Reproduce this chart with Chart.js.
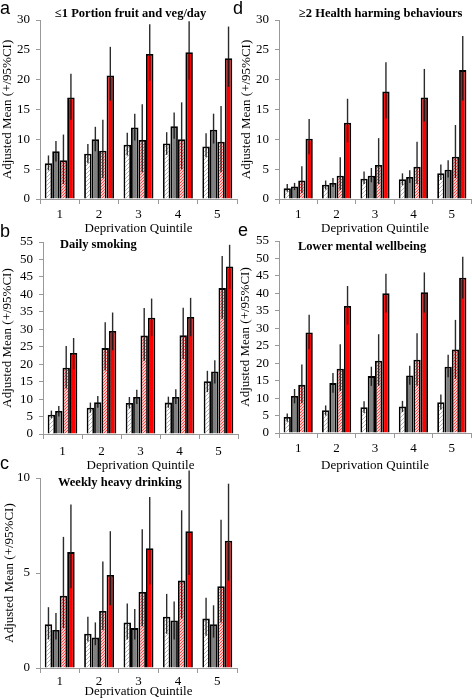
<!DOCTYPE html>
<html><head><meta charset="utf-8">
<script src="https://cdn.jsdelivr.net/npm/chart.js@4.4.0/dist/chart.umd.min.js"></script>
<style>
body{margin:0;width:472px;height:699px;position:relative;overflow:hidden;background:#fff;}
canvas{position:absolute;}
.lbl{position:absolute;font-family:"Liberation Sans",Arial,sans-serif;font-size:18px;line-height:1;color:#000;}
.ttl{position:absolute;font-family:"Liberation Serif",serif;font-weight:bold;font-size:12.5px;white-space:nowrap;line-height:1;color:#000;}
</style></head><body>
<canvas id="ca" width="240" height="240" style="left:0;top:0"></canvas>
<canvas id="cd" width="236" height="240" style="left:236px;top:0"></canvas>
<canvas id="cb" width="240" height="255" style="left:0;top:222px"></canvas>
<canvas id="ce" width="236" height="255" style="left:236px;top:222px"></canvas>
<canvas id="cc" width="240" height="241" style="left:0;top:458px"></canvas>
<div class="lbl" style="left:0;top:-1px">a</div>
<div class="lbl" style="left:233px;top:-1px">d</div>
<div class="lbl" style="left:0;top:222px">b</div>
<div class="lbl" style="left:238px;top:221px">e</div>
<div class="lbl" style="left:0;top:454px">c</div>
<div class="ttl" style="left:55px;top:7px">≤1 Portion fruit and veg/day</div>
<div class="ttl" style="left:299px;top:7px">≥2 Health harming behaviours</div>
<div class="ttl" style="left:60px;top:238px">Daily smoking</div>
<div class="ttl" style="left:298px;top:240px">Lower mental wellbeing</div>
<div class="ttl" style="left:58px;top:476px">Weekly heavy drinking</div>
<script>
// ---- data ----
const quintiles = ['1', '2', '3', '4', '5'];
const seriesNames = ['Series 1', 'Series 2', 'Series 3', 'Series 4'];
const xAxisTitle = 'Deprivation Quintile';
const yAxisTitle = 'Adjusted Mean (+/95%CI)';

// a: <=1 portion fruit and veg/day
const aMean = [[6.0,7.6,9.1,9.3,8.8],[8.0,10.0,12.0,12.2,11.6],[6.5,8.1,9.9,10.0,9.6],[17.0,20.7,24.3,24.6,23.6]];
const aLow  = [[4.8,6.0,7.3,7.4,7.0],[6.3,8.0,9.8,10.1,9.3],[2.5,3.5,4.5,5.0,4.5],[13.3,16.5,19.8,20.0,18.8]];
const aHigh = [[7.3,9.2,11.1,11.2,11.0],[9.7,12.1,14.3,14.5,14.3],[10.8,13.3,15.9,16.2,15.6],[21.0,25.5,29.3,29.8,28.9]];
// d: >=2 health harming behaviours
const dMean = [[1.8,2.4,3.4,3.3,4.3],[2.1,2.7,3.9,3.7,4.9],[3.1,3.9,5.7,5.4,7.1],[10.1,12.8,18.0,17.0,21.6]];
const dLow  = [[1.2,1.6,2.5,2.3,3.2],[1.5,2.0,2.8,2.7,3.6],[1.0,1.5,2.5,2.5,3.5],[7.5,9.5,13.5,13.0,16.5]];
const dHigh = [[2.5,3.1,4.6,4.3,5.8],[2.7,3.5,5.2,4.8,6.5],[5.5,7.0,10.2,9.6,12.4],[13.4,16.8,22.9,21.8,27.3]];
// b: daily smoking
const bMean = [[5.5,7.5,8.9,9.0,15.1],[6.6,9.1,10.6,10.6,17.9],[19.0,24.6,28.2,28.3,41.8],[23.2,29.5,33.3,33.5,48.0]];
const bLow  = [[4.5,6.1,7.3,7.5,12.0],[5.0,7.5,8.6,8.6,14.5],[13.0,18.2,21.0,21.5,33.0],[18.5,24.0,28.0,28.0,41.5]];
const bHigh = [[6.7,9.0,10.6,10.7,18.1],[8.0,10.9,12.7,12.8,21.1],[25.2,32.0,36.1,36.2,51.0],[27.5,34.8,38.8,39.0,54.2]];
// e: lower mental wellbeing
const eMean = [[4.6,6.5,7.4,7.6,8.8],[10.6,14.3,16.3,16.5,19.0],[13.8,18.4,20.7,21.0,23.9],[28.8,36.4,40.0,40.3,44.5]];
const eLow  = [[3.2,5.0,5.7,6.0,6.7],[8.5,11.5,13.5,13.8,16.0],[8.5,12.0,13.5,13.5,15.5],[24.0,31.0,34.5,34.5,38.5]];
const eHigh = [[5.6,7.9,9.1,9.2,11.0],[12.6,17.2,19.0,19.3,22.4],[19.6,25.4,28.3,28.6,32.4],[33.9,42.1,45.6,46.0,50.5]];
// c: weekly heavy drinking
const cMean = [[2.3,1.8,2.4,2.7,2.6],[2.0,1.6,2.1,2.5,2.3],[3.8,3.0,4.0,4.6,4.3],[6.1,4.9,6.3,7.2,6.7]];
const cLow  = [[1.5,1.4,1.5,1.8,1.7],[1.5,1.2,1.5,1.5,1.6],[2.1,2.0,2.2,2.6,2.4],[4.2,3.3,4.4,4.9,4.6]];
const cHigh = [[3.2,2.7,3.4,3.9,3.7],[2.9,2.4,3.1,3.5,3.3],[6.9,5.6,7.3,8.3,7.8],[8.6,7.2,9.0,10.4,9.7]];

// ---- styling ----
function hatch(line, spacing, lw) {
  const c = document.createElement('canvas');
  c.width = c.height = spacing;
  const g = c.getContext('2d');
  g.fillStyle = '#fff'; g.fillRect(0, 0, spacing, spacing);
  g.strokeStyle = line; g.lineWidth = lw;
  g.beginPath();
  g.moveTo(-1, spacing + 1); g.lineTo(spacing + 1, -1);
  g.moveTo(-1, 1); g.lineTo(1, -1);
  g.moveTo(spacing - 1, spacing + 1); g.lineTo(spacing + 1, spacing - 1);
  g.stroke();
  return g.createPattern(c, 'repeat');
}
const fills = [hatch('#b5b5b5', 4, 1), '#808080', hatch('#ff4040', 3, 1.1), '#ff0000'];

const errorBars = {
  id: 'errorBars',
  afterDatasetsDraw(chart) {
    const ctx = chart.ctx, y = chart.scales.y;
    ctx.save();
    ctx.strokeStyle = 'rgba(20,20,20,0.9)';
    ctx.lineWidth = 1.4;
    chart.data.datasets.forEach((ds, di) => {
      chart.getDatasetMeta(di).data.forEach((bar, i) => {
        ctx.beginPath();
        ctx.moveTo(bar.x, y.getPixelForValue(ds.ciLow[i]));
        ctx.lineTo(bar.x, y.getPixelForValue(ds.ciHigh[i]));
        ctx.stroke();
      });
    });
    ctx.restore();
  }
};

const serif = 'Liberation Serif';
function makePanel(id, means, lows, highs, yMax, yStep, g) {
  const datasets = means.map((m, s) => ({
    label: seriesNames[s],
    data: m,
    ciLow: lows[s],
    ciHigh: highs[s],
    backgroundColor: fills[s],
    borderColor: '#000',
    borderWidth: 1.8,
    categoryPercentage: 0.76,
    barPercentage: 1.0
  }));
  new Chart(document.getElementById(id), {
    type: 'bar',
    data: { labels: quintiles, datasets },
    plugins: [errorBars],
    options: {
      responsive: false, animation: false, devicePixelRatio: 1,
      layout: { padding: { top: g.top, right: g.right, left: 0, bottom: 0 } },
      plugins: { legend: { display: false }, tooltip: { enabled: false } },
      scales: {
        x: {
          offset: true,
          grid: { drawOnChartArea: false, drawTicks: true, tickLength: 5, color: '#999', offset: true },
          border: { color: '#999', width: 1 },
          ticks: { font: { family: serif, size: 13 }, color: '#000', padding: g.tickPad, maxRotation: 0 },
          title: { display: true, text: xAxisTitle, font: { family: serif, size: 13 }, color: '#000', padding: { top: 0, bottom: g.titlePad } },
          afterFit(s) { s.height = g.xH; }
        },
        y: {
          min: 0, max: yMax,
          ticks: { stepSize: yStep, autoSkip: false, font: { family: serif, size: 13 }, color: '#000', padding: 6 },
          grid: { drawOnChartArea: false, drawTicks: true, tickLength: 4, color: '#999' },
          border: { color: '#999', width: 1 },
          title: { display: true, text: yAxisTitle, font: { family: serif, size: 13 }, color: '#000', padding: { top: g.yTitlePad, bottom: 0 } },
          afterFit(s) { s.width = g.yW; }
        }
      }
    }
  });
}

makePanel('ca', aMean, aLow, aHigh, 30, 5, { top: 20, right: 3, xH: 41, yW: 40, tickPad: 3, titlePad: 4, yTitlePad: 0 });
makePanel('cd', dMean, dLow, dHigh, 30, 5, { top: 20, right: 1, xH: 41, yW: 43, tickPad: 3, titlePad: 4, yTitlePad: 3 });
makePanel('cb', bMean, bLow, bHigh, 55, 5, { top: 20, right: 2, xH: 43, yW: 43, tickPad: 5, titlePad: 4, yTitlePad: 0 });
makePanel('ce', eMean, eLow, eHigh, 55, 5, { top: 19, right: 1, xH: 44, yW: 43, tickPad: 3, titlePad: 4, yTitlePad: 2 });
makePanel('cc', cMean, cLow, cHigh, 10, 5, { top: 20, right: 3, xH: 31, yW: 40, tickPad: 1, titlePad: 0, yTitlePad: 2 });
</script>
</body></html>
